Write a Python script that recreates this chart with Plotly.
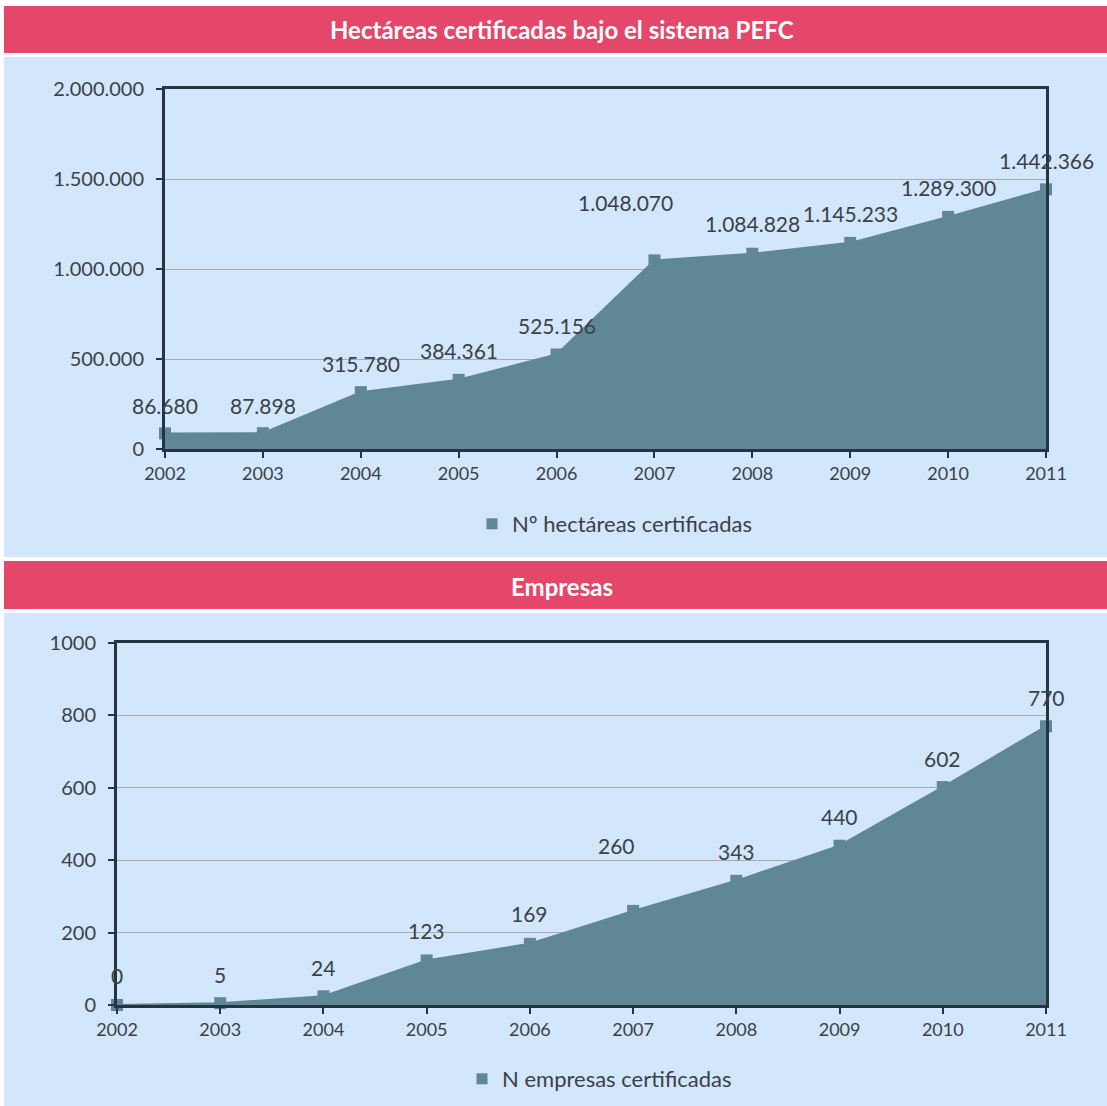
import plotly.graph_objects as go

# ---------------- data ----------------
years = [2002, 2003, 2004, 2005, 2006, 2007, 2008, 2009, 2010, 2011]
hectareas = [86680, 87898, 315780, 384361, 525156, 1048070, 1084828, 1145233, 1289300, 1442366]
hect_labels = ["86.680", "87.898", "315.780", "384.361", "525.156", "1.048.070",
               "1.084.828", "1.145.233", "1.289.300", "1.442.366"]
empresas = [0, 5, 24, 123, 169, 260, 343, 440, 602, 770]
emp_labels = [str(v) for v in empresas]

title1 = "Hectáreas certificadas bajo el sistema PEFC"
title2 = "Empresas"
legend1 = "Nº hectáreas certificadas"
legend2 = "N empresas certificadas"
y1_ticks = [0, 500000, 1000000, 1500000, 2000000]
y1_ticktext = ["0", "500.000", "1.000.000", "1.500.000", "2.000.000"]
y2_ticks = [0, 200, 400, 600, 800, 1000]

# label offsets (style)
h_yshift = [28, 28, 29, 29, 29, 58, 30, 29, 29, 29]
h_xshift = [0, 0, 0, 0, 0, -29, 0, 0, 0, 0]
e_yshift = [30, 29, 29, 30, 30, 65, 29, 29, 29, 29]
e_xshift = [0, 0, 0, 0, 0, -17, 0, 0, 0, 0]

W, H = 1107, 1106
FILL = "#5F8796"
RED = "#E5476A"
BLUE = "#D2E6FC"
DARK = "#243540"
TXT = "#3A4148"
FONT = "Lato, Roboto, sans-serif"

def px(x):
    return x / W

def py(y):
    return 1 - y / H

fig = go.Figure()

fig.add_trace(go.Scatter(x=years, y=hectareas, mode="lines+markers", fill="tozeroy",
                         fillcolor=FILL, line=dict(color=FILL, width=2),
                         marker=dict(symbol="square", size=12, color=FILL),
                         cliponaxis=False, showlegend=False, xaxis="x", yaxis="y"))
fig.add_trace(go.Scatter(x=[None], y=[None], mode="markers", name=legend1,
                         marker=dict(symbol="square", size=11, color=FILL),
                         legend="legend", xaxis="x", yaxis="y"))
fig.add_trace(go.Scatter(x=years, y=empresas, mode="lines+markers", fill="tozeroy",
                         fillcolor=FILL, line=dict(color=FILL, width=2),
                         marker=dict(symbol="square", size=12, color=FILL),
                         cliponaxis=False, showlegend=False, xaxis="x2", yaxis="y2"))
fig.add_trace(go.Scatter(x=[None], y=[None], mode="markers", name=legend2,
                         marker=dict(symbol="square", size=11, color=FILL),
                         legend="legend2", xaxis="x2", yaxis="y2"))

annotations = []
for xv, yv, t, ys, xs in zip(years, hectareas, hect_labels, h_yshift, h_xshift):
    annotations.append(dict(x=xv, y=yv, xref="x", yref="y", text=t, showarrow=False,
                            yshift=ys, xshift=xs, font=dict(family=FONT, size=21, color=TXT)))
for xv, yv, t, ys, xs in zip(years, empresas, emp_labels, e_yshift, e_xshift):
    annotations.append(dict(x=xv, y=yv, xref="x2", yref="y2", text=t, showarrow=False,
                            yshift=ys, xshift=xs, font=dict(family=FONT, size=21, color=TXT)))
# titles
annotations.append(dict(x=px(562), y=py(30), xref="paper", yref="paper", text="<b>" + title1 + "</b>",
                        showarrow=False, yanchor="middle", font=dict(family=FONT, size=24, color="white")))
annotations.append(dict(x=px(562), y=py(586), xref="paper", yref="paper", text="<b>" + title2 + "</b>",
                        showarrow=False, yanchor="middle", font=dict(family=FONT, size=24, color="white")))

shapes = [
    dict(type="rect", xref="paper", yref="paper", x0=px(4), x1=1, y0=py(53), y1=py(6),
         fillcolor=RED, line=dict(width=0), layer="below"),
    dict(type="rect", xref="paper", yref="paper", x0=px(4), x1=1, y0=py(557), y1=py(57),
         fillcolor=BLUE, line=dict(width=0), layer="below"),
    dict(type="rect", xref="paper", yref="paper", x0=px(4), x1=1, y0=py(609), y1=py(561),
         fillcolor=RED, line=dict(width=0), layer="below"),
    dict(type="rect", xref="paper", yref="paper", x0=px(4), x1=1, y0=0, y1=py(613),
         fillcolor=BLUE, line=dict(width=0), layer="below"),
]

axis_common = dict(showline=True, linecolor=DARK, linewidth=3, mirror=True,
                   ticks="outside", tickcolor=DARK, ticklen=6, tickwidth=2,
                   zeroline=False)

fig.update_layout(
    width=W, height=H,
    margin=dict(l=0, r=0, t=0, b=0, autoexpand=False),
    paper_bgcolor="white", plot_bgcolor="rgba(0,0,0,0)",
    font=dict(family=FONT, color=TXT),
    xaxis=dict(domain=[px(165), px(1046)], range=[2002, 2011], tickvals=years,
               showgrid=False, anchor="y", tickfont=dict(size=18, color=TXT), **axis_common),
    yaxis=dict(domain=[py(449), py(89)], range=[0, 2000000], tickvals=y1_ticks, ticktext=y1_ticktext,
               showgrid=True, gridcolor="#A9A9A9", gridwidth=1, anchor="x", ticklabelstandoff=8,
               tickfont=dict(size=20, color=TXT), **axis_common),
    xaxis2=dict(domain=[px(117), px(1046)], range=[2002, 2011], tickvals=years,
                showgrid=False, anchor="y2", tickfont=dict(size=18, color=TXT), **axis_common),
    yaxis2=dict(domain=[py(1005), py(643)], range=[0, 1000], tickvals=y2_ticks,
                showgrid=True, gridcolor="#A9A9A9", gridwidth=1, anchor="x2", ticklabelstandoff=8,
                tickfont=dict(size=20, color=TXT), **axis_common),
    legend=dict(x=px(472), y=py(524), xanchor="left", yanchor="middle", orientation="h",
                bgcolor="rgba(0,0,0,0)", font=dict(family=FONT, size=22, color=TXT),
                itemwidth=30),
    legend2=dict(x=px(462), y=py(1079), xanchor="left", yanchor="middle", orientation="h",
                 bgcolor="rgba(0,0,0,0)", font=dict(family=FONT, size=22, color=TXT),
                 itemwidth=30),
    annotations=annotations,
    shapes=shapes,
)

fig.write_html("out.html", config={"displayModeBar": False},
               post_script="document.body.style.margin='0';document.body.style.overflow='hidden';")
